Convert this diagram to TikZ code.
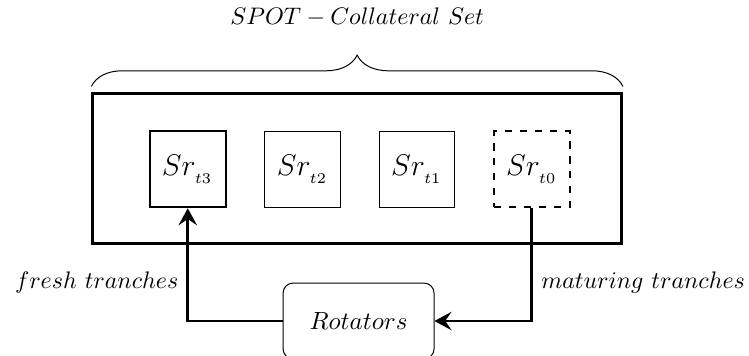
\documentclass[tikz,border=0pt]{standalone}
\usepackage{amsmath}
\usepackage{tikz}
\usetikzlibrary{arrows.meta,positioning,calc,decorations.pathreplacing}

\begin{document}
\begin{tikzpicture}[
    slot/.style={draw, minimum size=1.07cm, inner sep=0pt, font=\large},
    lbl/.style={scale=0.96, transform shape},
    arr/.style={-{Stealth[length=2.4mm, width=2.6mm, inset=0.9mm]}, very thick}
]
\useasboundingbox (0,0) rectangle (10.57,5.02);

\node[draw, very thick, minimum width=7.46cm, minimum height=2.12cm] (set) at (5.04,2.64) {};

\node[slot, thick] (t3) at (2.65,2.63) {$Sr_{_{t3}}$};
\node[slot, right=0.53cm of t3] (t2) {$Sr_{_{t2}}$};
\node[slot, right=0.53cm of t2] (t1) {$Sr_{_{t1}}$};
\node[slot, thick, dashed, right=0.53cm of t1] (t0) {$Sr_{_{t0}}$};

\node[draw, rounded corners, minimum width=2.13cm, minimum height=1.07cm] (rot)
    at (5.06,0.49) {$Rotators$};

% brace over the whole set
\draw[decorate, decoration={brace, amplitude=0.44cm}]
    ($(set.north west)+(0,0.08)$) -- ($(set.north east)+(0,0.08)$)
    node[lbl, midway, above=0.72cm] (title) {$SPOT - Collateral\ Set$};

\draw[arr] (rot.west) -| (t3.south)
    node[lbl, pos=0.67, left] (fresh) {$fresh\ tranches$};
\draw[arr] (t0.south) |- (rot.east)
    node[lbl, pos=0.33, right] (mat) {$maturing\ tranches$};

\end{tikzpicture}
\end{document}
